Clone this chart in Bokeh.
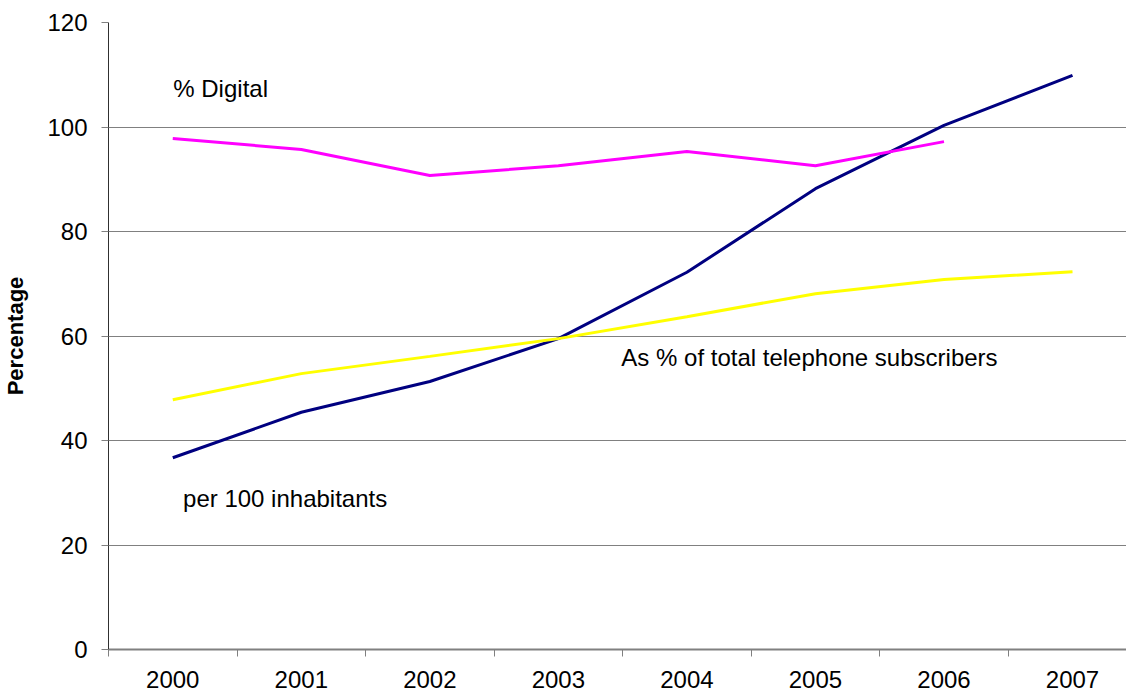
from bokeh.plotting import figure
from bokeh.models import Range1d, FixedTicker, Label
from bokeh.embed import file_html
from bokeh.resources import INLINE

years = ["2000", "2001", "2002", "2003", "2004", "2005", "2006", "2007"]
per_100 = [36.7, 45.4, 51.3, 59.5, 72.2, 88.2, 100.3, 109.9]
pct_digital = [97.8, 95.7, 90.7, 92.6, 95.3, 92.6, 97.2]
pct_total = [47.8, 52.8, 56.1, 59.5, 63.7, 68.1, 70.8, 72.3]
y_ticks = [0, 20, 40, 60, 80, 100, 120]

x_idx = list(range(len(years)))

p = figure(width=1126, height=698, output_backend="svg", toolbar_location=None,
           x_range=Range1d(-0.5, 7.42), y_range=Range1d(0, 120),
           min_border_left=105, min_border_right=0, min_border_top=22, min_border_bottom=49)
p.outline_line_color = None
p.background_fill_color = "white"

FONT = "Liberation Sans"

p.line(x_idx, per_100, line_color="#000080", line_width=3)
p.line(x_idx[:len(pct_digital)], pct_digital, line_color="#FF00FF", line_width=3)
p.line(x_idx, pct_total, line_color="#FFFF00", line_width=3)

# x axis
xa = p.xaxis[0]
xa.ticker = FixedTicker(ticks=x_idx, minor_ticks=[i - 0.5 for i in x_idx])
xa.major_label_overrides = {i: y for i, y in enumerate(years)}
xa.major_tick_line_color = None
xa.major_tick_out = 7
xa.major_tick_in = 0
xa.minor_tick_out = 7
xa.minor_tick_in = 0
xa.minor_tick_line_color = "#808080"
xa.minor_tick_line_width = 1
xa.axis_line_color = "#808080"
xa.axis_line_width = 2
xa.major_label_standoff = 14
xa.major_label_text_font = FONT
xa.major_label_text_font_size = "24px"
xa.major_label_text_color = "black"

# y axis
ya = p.yaxis[0]
ya.ticker = FixedTicker(ticks=y_ticks)
ya.major_tick_out = 7
ya.major_tick_in = 0
ya.major_tick_line_color = "#808080"
ya.minor_tick_line_color = None
ya.axis_line_color = "#303030"
ya.major_label_standoff = 14
ya.major_label_text_font = FONT
ya.major_label_text_font_size = "24px"
ya.major_label_text_color = "black"
ya.axis_label = "Percentage"
ya.axis_label_text_font = FONT
ya.axis_label_text_font_size = "22px"
ya.axis_label_text_font_style = "bold"
ya.axis_label_text_color = "black"
ya.axis_label_standoff = 16

p.xgrid.grid_line_color = None
p.ygrid.grid_line_color = "#808080"
p.ygrid.grid_line_width = 1

labels = [("% Digital", 0.004, 107.4), ("As % of total telephone subscribers", 3.49, 55.9),
          ("per 100 inhabitants", 0.08, 28.9)]
for txt, lx, ly in labels:
    p.add_layout(Label(x=lx, y=ly, text=txt, text_font=FONT, text_font_size="24px",
                       text_color="black", text_baseline="alphabetic", text_align="left"))

open("out.html", "w").write(file_html(p, INLINE))
